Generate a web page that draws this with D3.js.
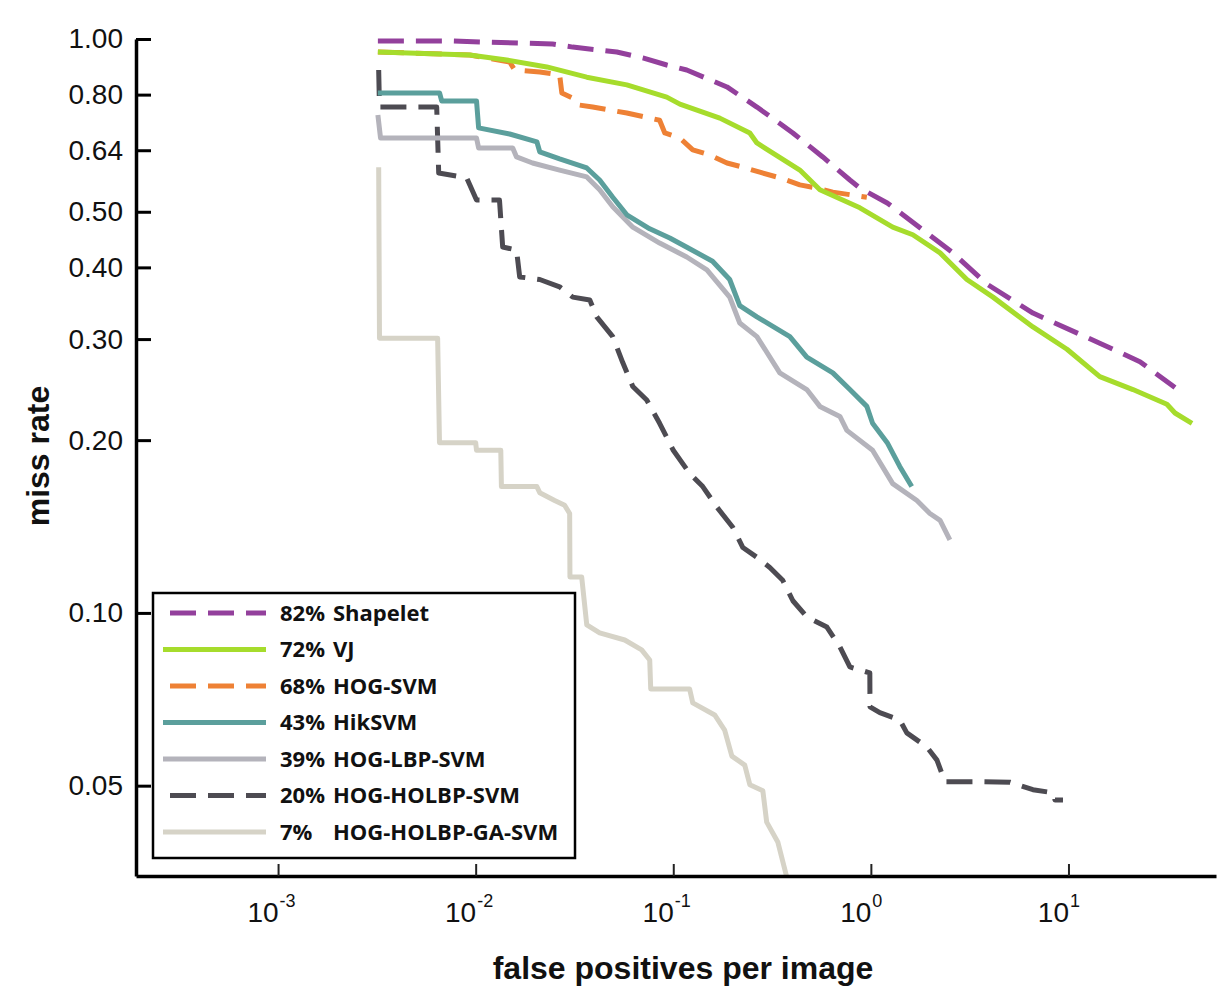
<!DOCTYPE html>
<html>
<head>
<meta charset="utf-8">
<script src="https://cdn.jsdelivr.net/npm/d3@7"></script>
<style>
  body { margin: 0; background: #fff; }
  svg { display: block; }
</style>
</head>
<body>
<div id="chart"></div>
<script>
// fppi vs miss rate
const shapelet = [[0.0032,0.992],[0.0074,0.992],[0.0245,0.980],[0.031,0.968],[0.0518,0.949],[0.0701,0.927],[0.0927,0.901],[0.117,0.883],[0.187,0.825],[0.265,0.761],[0.403,0.686],[0.571,0.623],[0.783,0.568],[0.88,0.550],[1.21,0.518],[1.92,0.459],[2.60,0.424],[3.87,0.374],[6.61,0.333],[14.4,0.295],[23.0,0.274],[34.6,0.247]];
const vj = [[0.0032,0.949],[0.00933,0.938],[0.01435,0.919],[0.0229,0.894],[0.0365,0.858],[0.0582,0.832],[0.0927,0.792],[0.108,0.770],[0.172,0.728],[0.244,0.686],[0.265,0.659],[0.437,0.591],[0.552,0.546],[0.88,0.508],[1.29,0.470],[1.63,0.456],[2.24,0.424],[3.06,0.381],[4.15,0.355],[6.61,0.315],[9.83,0.288],[14.4,0.258],[21.2,0.245],[31.5,0.231],[34.6,0.223],[42.2,0.214]];
const hogSvm = [[0.0032,0.949],[0.00933,0.938],[0.01486,0.912],[0.01575,0.883],[0.0211,0.876],[0.0266,0.866],[0.0273,0.805],[0.0325,0.783],[0.0336,0.767],[0.0391,0.761],[0.0582,0.743],[0.0853,0.722],[0.0906,0.686],[0.108,0.672],[0.1255,0.641],[0.153,0.628],[0.187,0.608],[0.225,0.598],[0.274,0.586],[0.346,0.573],[0.437,0.557],[0.533,0.550],[0.642,0.541],[0.954,0.530]];
const hikSvm = [[0.0032,0.805],[0.00657,0.805],[0.00673,0.780],[0.0101,0.780],[0.01035,0.700],[0.01486,0.683],[0.0204,0.662],[0.0211,0.636],[0.0266,0.618],[0.0365,0.596],[0.0424,0.568],[0.0494,0.530],[0.0582,0.494],[0.076,0.467],[0.096,0.450],[0.121,0.431],[0.158,0.410],[0.193,0.381],[0.217,0.343],[0.265,0.328],[0.389,0.303],[0.474,0.279],[0.642,0.262],[0.783,0.245],[0.954,0.229],[1.02,0.214],[1.21,0.198],[1.40,0.180],[1.61,0.166]];
const hogLbpSvm = [[0.0032,0.737],[0.0033,0.672],[0.0101,0.672],[0.01035,0.646],[0.0154,0.646],[0.0161,0.623],[0.0194,0.608],[0.0266,0.591],[0.0365,0.575],[0.0424,0.546],[0.0494,0.510],[0.0624,0.470],[0.0853,0.441],[0.117,0.417],[0.148,0.396],[0.193,0.355],[0.217,0.320],[0.265,0.303],[0.346,0.262],[0.474,0.245],[0.552,0.229],[0.697,0.220],[0.756,0.208],[1.02,0.192],[1.29,0.168],[1.71,0.157],[1.99,0.149],[2.24,0.145],[2.51,0.134]];
const hogHolbpSvm = [[0.00323,0.883],[0.00326,0.761],[0.00635,0.761],[0.0065,0.584],[0.009,0.573],[0.0101,0.524],[0.0132,0.524],[0.0137,0.434],[0.0161,0.429],[0.0167,0.385],[0.0211,0.381],[0.0266,0.370],[0.031,0.355],[0.0378,0.351],[0.041,0.328],[0.0494,0.303],[0.0555,0.273],[0.0624,0.248],[0.0734,0.235],[0.0853,0.214],[0.100,0.192],[0.121,0.175],[0.141,0.166],[0.166,0.153],[0.200,0.141],[0.225,0.130],[0.265,0.125],[0.308,0.120],[0.358,0.114],[0.403,0.105],[0.474,0.0984],[0.599,0.0945],[0.697,0.0873],[0.783,0.0805],[0.988,0.0786],[0.99,0.0686],[1.11,0.0670],[1.40,0.0651],[1.52,0.0618],[1.92,0.0584],[2.16,0.0554],[2.37,0.0508],[3.44,0.0508],[5.06,0.0507],[6.61,0.0492],[8.35,0.0486],[8.55,0.0472],[9.38,0.0472]];
const hogHolbpGaSvm = [[0.00323,0.598],[0.00326,0.301],[0.00642,0.301],[0.00656,0.198],[0.0100,0.198],[0.0101,0.192],[0.0134,0.192],[0.0135,0.166],[0.0204,0.166],[0.0211,0.162],[0.0251,0.157],[0.0282,0.154],[0.0299,0.149],[0.0300,0.1155],[0.0344,0.1155],[0.0365,0.0953],[0.0424,0.0923],[0.0568,0.0897],[0.0692,0.0862],[0.076,0.0828],[0.0769,0.0737],[0.121,0.0737],[0.1255,0.0697],[0.162,0.0664],[0.182,0.0625],[0.198,0.0563],[0.230,0.0543],[0.244,0.0502],[0.284,0.0490],[0.297,0.0432],[0.338,0.0399],[0.389,0.033]];

const percents = ['82%', '72%', '68%', '43%', '39%', '20%', '7%'];
const names = ['Shapelet', 'VJ', 'HOG-SVM', 'HikSVM', 'HOG-LBP-SVM', 'HOG-HOLBP-SVM', 'HOG-HOLBP-GA-SVM'];
const curves = [shapelet, vj, hogSvm, hikSvm, hogLbpSvm, hogHolbpSvm, hogHolbpGaSvm];

const xTicks = [1e-3, 1e-2, 1e-1, 1, 10];
const yTicks = [1, 0.8, 0.64, 0.5, 0.4, 0.3, 0.2, 0.1, 0.05];

// styles
const colors = ['#93409c', '#a6dc2c', '#ee8135', '#5b9f9c', '#b4b3bb', '#4d4b52', '#d6d3c7'];
const dashed = [true, false, true, false, false, true, false];

const width = 1228, height = 1003;
const x0 = 136, x1 = 1216, yTop = 39, yBot = 876;

const svg = d3.select('#chart').append('svg')
    .attr('width', width)
    .attr('height', height);

const x = d3.scaleLog().domain([1.91e-4, 55.8]).range([x0, x1]);
const y = d3.scaleLog().domain([0.0348, 1]).range([yBot, yTop]);

svg.append('clipPath').attr('id', 'plot-clip')
    .append('rect')
    .attr('x', x0).attr('y', 0)
    .attr('width', x1 - x0).attr('height', yBot);

const line = d3.line()
    .x(d => x(d[0]))
    .y(d => y(d[1]));

// curves, last legend entry drawn first
const plot = svg.append('g').attr('clip-path', 'url(#plot-clip)');
d3.range(curves.length).reverse().forEach(i => {
    plot.append('path')
        .datum(curves[i])
        .attr('d', line)
        .attr('fill', 'none')
        .attr('stroke', colors[i])
        .attr('stroke-width', 5)
        .attr('stroke-linejoin', 'round')
        .attr('stroke-dasharray', dashed[i] ? '26,12' : null);
});

// y axis
const yAxis = d3.axisLeft(y)
    .tickValues(yTicks)
    .tickFormat(d3.format('.2f'))
    .tickSizeInner(-15)
    .tickSizeOuter(0)
    .tickPadding(13);

const gy = svg.append('g')
    .attr('transform', `translate(${x0},0)`)
    .call(yAxis);
gy.select('.domain').attr('stroke', '#000').attr('stroke-width', 3.5);
gy.selectAll('.tick line').attr('stroke', '#000').attr('stroke-width', 3);
gy.selectAll('.tick text')
    .attr('fill', '#111')
    .style('font-family', '"Liberation Sans", Arial, sans-serif')
    .style('font-size', '28px');

// x axis
const xAxis = d3.axisBottom(x)
    .tickValues(xTicks)
    .tickFormat(() => '')
    .tickSizeInner(-12)
    .tickSizeOuter(0);

const gx = svg.append('g')
    .attr('transform', `translate(0,${yBot})`)
    .call(xAxis);
gx.select('.domain').attr('stroke', '#000').attr('stroke-width', 3.5);
gx.selectAll('.tick line').attr('stroke', '#222').attr('stroke-width', 2);
gx.selectAll('.tick text').remove();
gx.selectAll('.tick').each(function(d) {
    const g = d3.select(this);
    g.append('text')
        .attr('x', 0).attr('y', 46)
        .attr('text-anchor', 'end')
        .attr('fill', '#111')
        .style('font-family', '"Liberation Sans", Arial, sans-serif')
        .style('font-size', '28px')
        .text('10');
    g.append('text')
        .attr('x', 1).attr('y', 31)
        .attr('text-anchor', 'start')
        .attr('fill', '#111')
        .style('font-family', '"Liberation Sans", Arial, sans-serif')
        .style('font-size', '18px')
        .text(Math.round(Math.log10(d)));
});

// axis titles
svg.append('text')
    .attr('x', 683).attr('y', 979)
    .attr('text-anchor', 'middle')
    .attr('fill', '#111')
    .style('font-family', '"Liberation Sans", Arial, sans-serif')
    .style('font-weight', 'bold')
    .style('font-size', '32px')
    .text('false positives per image');

svg.append('text')
    .attr('transform', 'translate(49,456) rotate(-90)')
    .attr('text-anchor', 'middle')
    .attr('fill', '#111')
    .style('font-family', '"Liberation Sans", Arial, sans-serif')
    .style('font-weight', 'bold')
    .style('font-size', '32px')
    .text('miss rate');

// legend
const legend = svg.append('g');
legend.append('rect')
    .attr('x', 153).attr('y', 593)
    .attr('width', 422).attr('height', 265)
    .attr('fill', '#fff')
    .attr('stroke', '#000')
    .attr('stroke-width', 2.5);

names.forEach((name, i) => {
    const cy = 613 + i * 36.5;
    legend.append('line')
        .attr('x1', dashed[i] ? 170 : 163).attr('x2', 266)
        .attr('y1', cy).attr('y2', cy)
        .attr('stroke', colors[i])
        .attr('stroke-width', 5)
        .attr('stroke-dasharray', dashed[i] ? '26,12' : null);
    const t = legend.append('text')
        .attr('y', cy)
        .attr('dy', '0.36em')
        .attr('fill', '#111')
        .style('font-family', '"Open Sans", sans-serif')
        .style('font-weight', 'bold')
        .style('font-size', '22px');
    t.append('tspan').attr('x', 280).text(percents[i]);
    t.append('tspan').attr('x', 333).text(name);
});
</script>
</body>
</html>
